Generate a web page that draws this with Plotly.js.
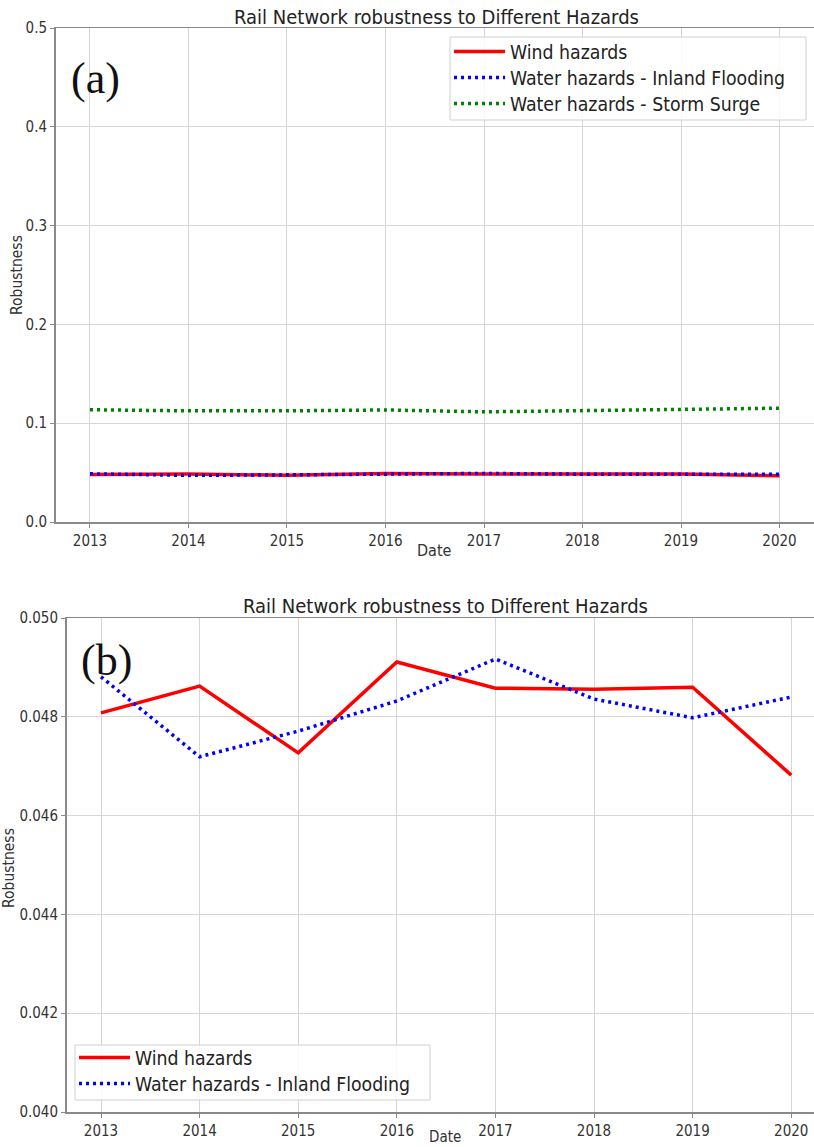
<!DOCTYPE html>
<html>
<head>
<meta charset="utf-8">
<script src="https://cdn.plot.ly/plotly-3.0.1.min.js"></script>
<style>html,body{margin:0;padding:0;background:#fff;}#chart{width:814px;height:1147px;}</style>
</head>
<body>
<div id="chart"></div>
<script>
const years = [2013, 2014, 2015, 2016, 2017, 2018, 2019, 2020];
const windHazards = [0.04808, 0.04862, 0.04727, 0.04911, 0.04858, 0.04856, 0.04860, 0.04682];
const inlandFlooding = [0.04881, 0.04719, 0.04771, 0.04832, 0.04917, 0.04836, 0.04798, 0.04840];
const stormSurge = [0.1136, 0.1125, 0.1125, 0.1134, 0.1115, 0.1128, 0.1138, 0.1152];
const seriesNames = ["Wind hazards", "Water hazards - Inland Flooding", "Water hazards - Storm Surge"];
const titleText = "Rail Network robustness to Different Hazards";
const xTitle = "Date";
const yTitle = "Robustness";
const topYTicks = [0, 0.1, 0.2, 0.3, 0.4, 0.5];
const topYTickText = ["0.0", "0.1", "0.2", "0.3", "0.4", "0.5"];
const botYTicks = [0.040, 0.042, 0.044, 0.046, 0.048, 0.050];
const botYTickText = ["0.040", "0.042", "0.044", "0.046", "0.048", "0.050"];

const W = 814, H = 1147;
const px = v => v / W;
const py = v => 1 - v / H;
const FONT = "DejaVu Sans Condensed, DejaVu Sans, sans-serif";
const DOT = "3px,4px";
const RED = {color: "#ff0000", width: 3.5};
const BLUE = {color: "#0000ff", width: 3.5, dash: DOT};
const GREEN = {color: "#008000", width: 3.5, dash: DOT};

const traces = [
  {x: years, y: windHazards, name: seriesNames[0], mode: "lines", xaxis: "x", yaxis: "y", line: RED, legend: "legend"},
  {x: years, y: inlandFlooding, name: seriesNames[1], mode: "lines", xaxis: "x", yaxis: "y", line: BLUE, legend: "legend3"},
  {x: years, y: stormSurge, name: seriesNames[2], mode: "lines", xaxis: "x", yaxis: "y", line: GREEN, legend: "legend4"},
  {x: years, y: windHazards, name: seriesNames[0], mode: "lines", xaxis: "x2", yaxis: "y2", line: RED, legend: "legend2"},
  {x: years, y: inlandFlooding, name: seriesNames[1], mode: "lines", xaxis: "x2", yaxis: "y2", line: BLUE, legend: "legend5"}
];

const axisCommon = {
  showgrid: true, gridcolor: "#d6d6d6", gridwidth: 1,
  showline: true, linecolor: "#8a8a8a", linewidth: 1.5,
  ticks: "outside", ticklen: 4, tickcolor: "#8a8a8a", tickwidth: 1,
  tickfont: {family: FONT, size: 15, color: "#333"},
  zeroline: false, fixedrange: true
};

const leg = (x, y) => ({
  x: px(x), y: py(y), xanchor: "left", yanchor: "middle", itemwidth: 51,
  bgcolor: "rgba(0,0,0,0)", borderwidth: 0,
  font: {family: FONT, size: 19.3, color: "#222"}
});

const box = (x0, y0, x1, y1) => ({
  type: "rect", xref: "paper", yref: "paper", layer: "above",
  x0: px(x0), x1: px(x1), y0: py(y1), y1: py(y0),
  fillcolor: "rgba(255,255,255,0.85)", line: {color: "#d0d0d0", width: 1}
});

const layout = {
  width: W, height: H,
  margin: {l: 0, r: 0, t: 0, b: 0},
  paper_bgcolor: "#fff", plot_bgcolor: "#fff",
  showlegend: true,
  xaxis: Object.assign({}, axisCommon, {domain: [px(55.5), 1], range: [2012.65, 2020.35],
    tickvals: years, ticktext: years.map(String), mirror: true, anchor: "y"}),
  yaxis: Object.assign({}, axisCommon, {domain: [py(522), py(28)], range: [0, 0.5],
    tickvals: topYTicks, ticktext: topYTickText, anchor: "x"}),
  xaxis2: Object.assign({}, axisCommon, {domain: [px(66.5), 1], range: [2012.65, 2020.231],
    tickvals: years, ticktext: years.map(String), mirror: true, anchor: "y2"}),
  yaxis2: Object.assign({}, axisCommon, {domain: [py(1112), py(618)], range: [0.040, 0.050],
    tickvals: botYTicks, ticktext: botYTickText, anchor: "x2"}),
  legend: leg(449, 52),
  legend3: leg(449, 78),
  legend4: leg(449, 104),
  legend2: leg(74, 1058),
  legend5: leg(74, 1084),
  shapes: [box(450, 37, 806, 120), box(75, 1045, 430, 1100)],
  annotations: [
    {text: titleText, x: px(436), y: py(17), xref: "paper", yref: "paper", showarrow: false,
     xanchor: "center", yanchor: "middle", font: {family: FONT, size: 20, color: "#222"}},
    {text: titleText, x: px(445), y: py(606), xref: "paper", yref: "paper", showarrow: false,
     xanchor: "center", yanchor: "middle", font: {family: FONT, size: 20, color: "#222"}},
    {text: xTitle, x: px(434), y: py(550), xref: "paper", yref: "paper", showarrow: false,
     xanchor: "center", yanchor: "middle", font: {family: FONT, size: 16, color: "#333"}},
    {text: xTitle, x: px(445), y: py(1137), xref: "paper", yref: "paper", showarrow: false,
     xanchor: "center", yanchor: "middle", font: {family: FONT, size: 15, color: "#333"}},
    {text: yTitle, x: px(17), y: py(275), xref: "paper", yref: "paper", showarrow: false, textangle: -90,
     xanchor: "center", yanchor: "middle", font: {family: FONT, size: 15.5, color: "#333"}},
    {text: yTitle, x: px(9), y: py(868), xref: "paper", yref: "paper", showarrow: false, textangle: -90,
     xanchor: "center", yanchor: "middle", font: {family: FONT, size: 15.5, color: "#333"}},
    {text: "(a)", x: px(95), y: py(78), xref: "paper", yref: "paper", showarrow: false,
     xanchor: "center", yanchor: "middle", font: {family: "Liberation Serif, serif", size: 44, color: "#111"}},
    {text: "(b)", x: px(106), y: py(660), xref: "paper", yref: "paper", showarrow: false,
     xanchor: "center", yanchor: "middle", font: {family: "Liberation Serif, serif", size: 44, color: "#111"}}
  ]
};

Plotly.newPlot("chart", traces, layout, {displayModeBar: false, staticPlot: true});
</script>
</body>
</html>
